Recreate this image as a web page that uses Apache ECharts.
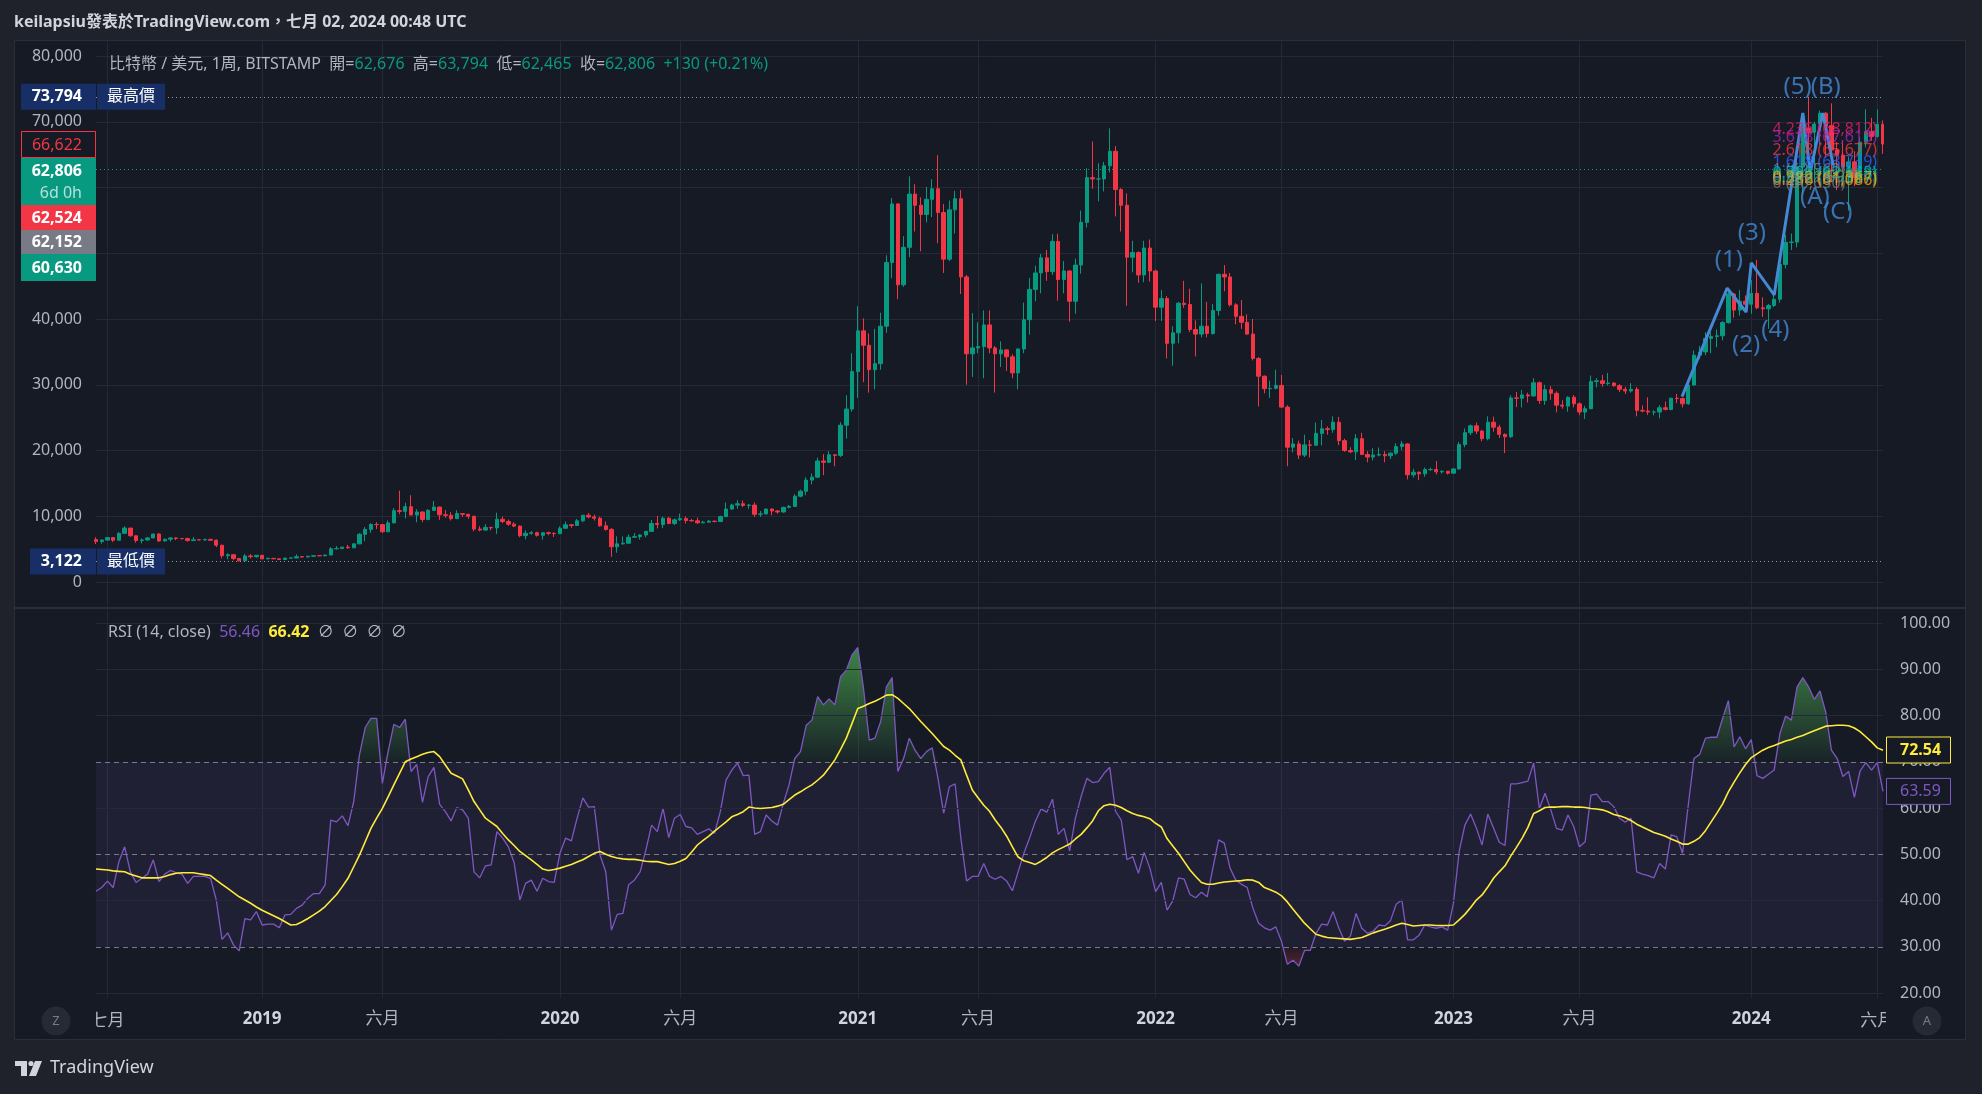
<!DOCTYPE html>
<html lang="zh-Hant">
<head>
<meta charset="UTF-8">
<title>比特幣 / 美元, 1周, BITSTAMP</title>
<script src="https://cdn.jsdelivr.net/npm/echarts@6.0.0/dist/echarts.min.js"></script>
<style>
  html, body { margin: 0; padding: 0; background: #1f222b; }
  #main { width: 1982px; height: 1094px; }
</style>
</head>
<body>
<div id="main"></div>
<script>
// weekly candles [open, high, low, close], first bar is the week of 2018-06-18
var firstWeek = '2018-06-18';

var ohlc2018 = [
  [6450, 6810, 5780, 6150], [6150, 6480, 5830, 6380], [6380, 6770, 6290, 6750], [6750, 6790, 6070, 6350],
  [6350, 7580, 6330, 7400], [7400, 8480, 7390, 8200], [8200, 8250, 6900, 7030], [7030, 7150, 5970, 6310],
  [6310, 6620, 5880, 6400], [6400, 6840, 6280, 6700], [6700, 7340, 6680, 7300], [7300, 7420, 6100, 6250],
  [6250, 6600, 6160, 6500], [6500, 6820, 6150, 6700], [6700, 6790, 6360, 6620], [6620, 6700, 6480, 6600],
  [6600, 6740, 6140, 6300], [6300, 6850, 6280, 6420], [6420, 6500, 6350, 6400], [6400, 6560, 6260, 6480],
  [6480, 6600, 6280, 6350], [6350, 6470, 5300, 5600], [5600, 5650, 3600, 4000], [4000, 4350, 3450, 4150],
  [4150, 4200, 3300, 3580], [3580, 3600, 3122, 3220], [3220, 4250, 3200, 3960], [3960, 4250, 3580, 3850],
  [3850, 4100, 3690, 4060]
];
var ohlc2019 = [
  [4060, 4110, 3480, 3520], [3520, 3720, 3480, 3600], [3600, 3630, 3450, 3530], [3530, 3540, 3380, 3420],
  [3420, 3680, 3370, 3640], [3640, 3700, 3540, 3650], [3650, 4200, 3620, 3850], [3850, 3950, 3700, 3820],
  [3820, 3960, 3700, 3920], [3920, 4040, 3840, 4000], [4000, 4080, 3940, 3990], [3990, 4140, 3930, 4100],
  [4100, 5300, 4080, 5050], [5050, 5470, 4950, 5080], [5080, 5360, 5020, 5300], [5300, 5630, 5070, 5200],
  [5200, 5850, 5150, 5800], [5800, 7450, 5750, 7250], [7250, 8350, 6200, 8000], [8000, 8950, 7500, 8750],
  [8750, 9090, 8050, 8730], [8730, 8800, 7450, 7650], [7650, 9350, 7550, 8990], [8990, 11250, 8950, 10850],
  [10850, 13880, 10300, 10750], [10750, 12050, 9650, 11450], [11450, 13200, 10100, 10200], [10200, 11080, 9080, 10650],
  [10650, 10700, 9110, 9500], [9500, 11080, 9400, 10900], [10900, 12320, 10800, 11400], [11400, 11450, 9450, 10230],
  [10230, 10950, 9750, 10150], [10150, 10620, 9340, 9630], [9630, 10900, 9600, 10400], [10400, 10450, 9900, 10300],
  [10300, 10350, 9600, 10000], [10000, 10100, 7700, 8050], [8050, 8500, 7700, 7900], [7900, 8800, 7790, 8300],
  [8300, 8400, 7850, 8230], [8230, 10550, 7300, 9550], [9550, 9950, 8950, 9200], [9200, 9500, 8550, 8800],
  [8800, 9100, 8350, 8500], [8500, 8600, 6800, 7050], [7050, 7850, 6500, 7400], [7400, 7750, 7200, 7500],
  [7500, 7650, 6900, 7100], [7100, 7550, 6450, 7500], [7500, 7650, 7100, 7400], [7400, 7550, 6850, 7350]
];
var ohlc2020 = [
  [7350, 8460, 7350, 8180], [8180, 9200, 8050, 8700], [8700, 8750, 8250, 8600], [8600, 9600, 8550, 9300],
  [9300, 10200, 9100, 10150], [10150, 10500, 9700, 9900], [9900, 10250, 9350, 9700], [9700, 9950, 8400, 8550],
  [8550, 9200, 7800, 8000], [8000, 8200, 3850, 5350], [5350, 6950, 4450, 5800], [5800, 6950, 5700, 5900],
  [5900, 7200, 5850, 6800], [6800, 7450, 6750, 6900], [6900, 7300, 6450, 7150], [7150, 7750, 6800, 7700],
  [7700, 9450, 7650, 8900], [8900, 10050, 8150, 8750], [8750, 9950, 8200, 9700], [9700, 9900, 8800, 8900],
  [8900, 9650, 8650, 9450], [9450, 10400, 9300, 9650], [9650, 9990, 8900, 9350], [9350, 9600, 9200, 9300],
  [9300, 9800, 8850, 9000], [9000, 9300, 8950, 9100], [9100, 9450, 9050, 9250], [9250, 9350, 9050, 9200],
  [9200, 10100, 9150, 9950], [9950, 12100, 9900, 11100], [11100, 11900, 11000, 11700], [11700, 12450, 11150, 11900],
  [11900, 12400, 11400, 11650], [11650, 11850, 11150, 11700], [11700, 12100, 9900, 10300], [10300, 10800, 9900, 10350],
  [10350, 11150, 10300, 11100], [11100, 11180, 10150, 10800], [10800, 10950, 10400, 10650], [10650, 11450, 10530, 11350],
  [11350, 11700, 11200, 11500], [11500, 13350, 11400, 13050], [13050, 14050, 12900, 13800], [13800, 15950, 13200, 15500],
  [15500, 16500, 14850, 15950], [15950, 18900, 15800, 18400], [18400, 19450, 16250, 18200], [18200, 19900, 18100, 19350],
  [19350, 19400, 17600, 19250], [19250, 24300, 19000, 23850], [23850, 28400, 21800, 26300], [26300, 34800, 25900, 32000]
];
var ohlc2021 = [
  [32000, 41950, 28000, 38200], [38200, 40100, 30400, 36000], [36000, 37800, 28800, 32300], [32300, 38500, 29300, 33200],
  [33200, 40950, 32300, 38900], [38900, 49700, 37900, 48600], [48600, 58400, 46200, 57500], [57500, 57600, 43000, 45200],
  [45200, 52600, 44900, 50900], [50900, 61700, 49400, 59000], [59000, 60500, 53300, 57300], [57300, 58500, 50300, 55900],
  [55900, 60100, 54700, 58200], [58200, 61250, 55500, 59800], [59800, 64900, 51500, 56200], [56200, 57500, 47000, 49100],
  [49100, 58000, 48800, 56600], [56600, 59500, 53000, 58300], [58300, 59600, 43800, 46400], [46400, 46700, 30000, 34700],
  [34700, 40900, 31200, 35600], [35600, 39500, 34800, 35800], [35800, 41300, 31000, 39100], [39100, 41300, 34800, 35600],
  [35600, 35900, 28800, 34700], [34700, 36600, 32700, 35300], [35300, 35400, 32100, 34250], [34250, 34650, 31000, 31800],
  [31800, 35500, 29300, 35450], [35450, 42500, 34800, 39900], [39900, 46250, 37600, 44500], [44500, 48100, 42700, 47000],
  [47000, 49900, 43900, 49300], [49300, 50500, 45800, 47200], [47200, 52900, 46700, 51800], [51800, 52950, 42800, 46000],
  [46000, 48800, 43900, 47300], [47300, 47400, 39600, 42700], [42700, 49200, 40800, 48200], [48200, 56500, 46900, 54700],
  [54700, 62900, 53900, 61500], [61500, 67000, 59800, 61300], [61300, 63700, 57900, 61300], [61300, 63900, 59400, 63300],
  [63300, 69000, 62300, 65500], [65500, 66300, 55600, 59700], [59700, 59900, 53300, 57300], [57300, 59100, 42000, 49400],
  [49400, 51900, 47100, 50100], [50100, 50300, 45500, 46700], [46700, 51900, 45600, 50800], [50800, 52100, 45700, 47300]
];
var ohlc2022 = [
  [47300, 47500, 39700, 41800], [41800, 44400, 39700, 43100], [43100, 43500, 34000, 36300], [36300, 38900, 32900, 37900],
  [37900, 42600, 36300, 42400], [42400, 45800, 41700, 42200], [42200, 44600, 38000, 38400], [38400, 39800, 34300, 37700],
  [37700, 45400, 37200, 38900], [38900, 42600, 37200, 37800], [37800, 42300, 37600, 41300], [41300, 46900, 40500, 46800],
  [46800, 48200, 44200, 46400], [46400, 47000, 41900, 42150], [42150, 42400, 39200, 40400], [40400, 42900, 38500, 39500],
  [39500, 40700, 37600, 37700], [37700, 40000, 33700, 34000], [34000, 34200, 26700, 31300], [31300, 31400, 28700, 29400],
  [29400, 30600, 28000, 29450], [29450, 32300, 29300, 29900], [29900, 31500, 26500, 26600], [26600, 26900, 17600, 20500],
  [20500, 21900, 19700, 21000], [21000, 21500, 18700, 19300], [19300, 22400, 19000, 20850], [20850, 21600, 18950, 20800],
  [20800, 24250, 20700, 22600], [22600, 24650, 20750, 23300], [23300, 23650, 22400, 23200], [23200, 25200, 22700, 24300],
  [24300, 25100, 20800, 21500], [21500, 21800, 19800, 20000], [20000, 20500, 19600, 19800], [19800, 22500, 18550, 21800],
  [21800, 22700, 19350, 19400], [19400, 19900, 18200, 19000], [19000, 20350, 18500, 19300], [19300, 20450, 19100, 19400],
  [19400, 19900, 18200, 19200], [19200, 19700, 18700, 19600], [19600, 21100, 19300, 20600], [20600, 21450, 20050, 21000],
  [21000, 21100, 15600, 16300], [16300, 17200, 15900, 16700], [16700, 16800, 15500, 16450], [16450, 17400, 16000, 17100],
  [17100, 17400, 16900, 17100], [17100, 18400, 16350, 16750], [16750, 16950, 16500, 16850], [16850, 16900, 16350, 16550]
];
var ohlc2023 = [
  [16550, 17300, 16500, 17200], [17200, 21300, 17100, 20900], [20900, 23350, 20500, 22700], [22700, 23950, 22350, 23750],
  [23750, 24250, 22500, 22950], [22950, 23150, 21400, 21800], [21800, 25200, 21550, 24300], [24300, 25150, 22850, 23550],
  [23550, 23900, 21900, 22450], [22450, 22600, 19600, 22100], [22100, 28400, 21900, 28000], [28000, 28900, 26600, 27950],
  [27950, 29200, 26550, 28450], [28450, 28800, 27300, 28300], [28300, 31000, 28200, 30300], [30300, 30500, 27100, 27600],
  [27600, 30000, 26950, 29250], [29250, 29800, 27700, 28700], [28700, 29000, 25800, 26900], [26900, 27650, 26350, 26750],
  [26750, 28250, 25900, 28100], [28100, 28450, 26550, 27100], [27100, 27350, 25350, 25850], [25850, 26800, 24800, 26350],
  [26350, 31400, 26300, 30500], [30500, 31000, 29600, 30600], [30600, 31500, 29700, 30200], [30200, 31800, 29900, 30250],
  [30250, 30400, 29700, 29850], [29850, 30100, 28900, 29300], [29300, 29700, 28600, 29050], [29050, 30250, 28800, 29300],
  [29300, 29650, 25200, 26100], [26100, 26850, 25800, 26000], [26000, 28100, 25400, 25850], [25850, 26100, 25350, 25850],
  [25850, 26900, 24900, 26500], [26500, 27450, 26100, 26250], [26250, 28000, 26100, 27950], [27950, 28600, 27200, 27900],
  [27900, 28000, 26550, 27100], [27100, 30350, 26950, 29950], [29950, 35200, 29900, 34500], [34500, 35900, 33900, 35000],
  [35000, 38000, 34500, 37050], [37050, 37950, 34800, 37350], [37350, 38400, 35700, 37450], [37450, 39700, 36750, 39450],
  [39450, 44700, 39300, 43800], [43800, 44000, 40200, 41350], [41350, 44400, 40500, 42700], [42700, 43600, 41300, 42250]
];
var ohlc2024 = [
  [42250, 45900, 40800, 43900], [43900, 49000, 41500, 41700], [41700, 43300, 40300, 41550], [41550, 42300, 38500, 42050],
  [42050, 43900, 41800, 43000], [43000, 48600, 42500, 48300], [48300, 52800, 47700, 51650], [51650, 53000, 50500, 51700],
  [51700, 64000, 50900, 63100], [63100, 70100, 59000, 68950], [68950, 73794, 64600, 68400], [68400, 70000, 60700, 69650],
  [69650, 71700, 66500, 71300], [71300, 71500, 64500, 69400], [69400, 72800, 60800, 65700], [65700, 66900, 59600, 64900],
  [64900, 67200, 62400, 63100], [63100, 64700, 56500, 63900], [63900, 65500, 60200, 61500], [61500, 67700, 60800, 66900],
  [66900, 71900, 66100, 68500], [68500, 70600, 67100, 67750], [67750, 71900, 67600, 69600], [69600, 70200, 65100, 66622]
];

// RSI(14) and its moving average, one value per weekly bar
var rsiValues = [
  42, 42.8, 44.2, 42.8, 48.4, 51.6, 46.2, 43.9, 44.8, 45.7,
  48.8, 44.1, 45.7, 46.5, 46, 45.7, 43.7, 45.2, 45.2, 45.2,
  44.8, 40.1, 31.6, 33, 30.4, 29.1, 36.1, 35.8, 37.6, 34.7,
  34.9, 34.9, 34.1, 36.9, 37, 38.3, 39, 40.5, 41.5, 41.5,
  43.4, 57.4, 57, 58.3, 56.2, 61.4, 71.5, 77.4, 79.4, 79.4,
  65.3, 72.2, 78.1, 77.4, 79.2, 67.9, 69.4, 61.2, 66.8, 68.8,
  60.8, 59.2, 57.2, 60.1, 59.6, 57.8, 46.2, 44.9, 47.5, 47.7,
  54.9, 53.5, 51.6, 48.2, 40.1, 43.7, 44.4, 42, 44.8, 44.1,
  43.9, 50.2, 53.5, 52.9, 57.8, 62.2, 60.2, 60.3, 49.8, 46.2,
  33.6, 37, 37.2, 43.4, 44.4, 46.2, 50.9, 56.3, 54.9, 59.9,
  53.6, 57.8, 58.6, 56, 55.7, 54.3, 54.9, 55.5, 54.5, 59.2,
  66, 68.2, 69.7, 67, 67.1, 54.3, 54.9, 58.5, 57.2, 56.3,
  61, 65, 70.7, 72.2, 77.9, 79, 84.1, 82.3, 83.6, 82.3,
  88.4, 89.8, 93.1, 94.7, 85.9, 74.7, 75.1, 78.7, 86.2, 88.2,
  67.9, 70.7, 75.1, 72.5, 70.7, 72.2, 73, 66.4, 58.9, 64.6,
  65.2, 53.5, 44.2, 45.2, 45.2, 48, 45.2, 44.6, 45.2, 44.2,
  42.1, 46.2, 50.2, 53.5, 57.1, 59.8, 59.1, 61.9, 54.3, 55.6,
  50.7, 57.8, 62.5, 66.4, 65.5, 65.7, 67.5, 68.8, 59.3, 57.4,
  48.8, 49.5, 45.9, 50.4, 47, 41.9, 43.9, 37.9, 39.9, 44.9,
  44.6, 41.3, 40.6, 41.8, 40.8, 47, 53.1, 52.4, 47, 44.4,
  43.5, 42.8, 38.3, 35.1, 34.1, 33.6, 34.3, 31.1, 26.2, 27.1,
  25.8, 29.2, 29.2, 32.9, 34.9, 34.7, 37.6, 34, 31.2, 32.3,
  37.2, 34, 32.9, 33.4, 34.7, 34.5, 35.6, 39.2, 40.1, 31.5,
  31.5, 32.5, 34.7, 34.3, 34, 34.3, 33.6, 39.4, 50.6, 56.3,
  58.7, 55.7, 52, 58.7, 55.7, 52.6, 51.9, 65.2, 65.2, 65.5,
  65.8, 69.7, 59.9, 63.2, 59.6, 55.6, 55.2, 58.5, 56, 51.6,
  52.7, 62.8, 63, 61.4, 61.4, 60.3, 57.8, 56.9, 57.8, 46.2,
  45.7, 45.4, 44.9, 48, 46.8, 54.2, 53.8, 50.2, 60.6, 70.7,
  71.6, 75.1, 75.3, 75.3, 79.4, 83.2, 73.2, 75.4, 72.8, 74.8,
  67, 66.4, 67.3, 68.2, 76.1, 79.9, 79, 86.2, 88.2, 86.2,
  83.5, 85.3, 80.7, 72.5, 70.7, 66.8, 67.9, 62.3, 68, 69.8,
  68.2, 69.8, 63.6
];
var rsiMaValues = [
  46.8, 46.7, 46.6, 46.4, 46.3, 46.2, 45.7, 45.3, 44.9, 44.9,
  44.9, 44.9, 45.2, 45.6, 45.9, 46, 46, 46, 45.8, 45.6,
  45.4, 44.4, 43.5, 42.6, 41.7, 40.8, 40.1, 39.4, 38.6, 37.9,
  37.3, 36.7, 36.1, 35.4, 34.7, 34.8, 35.4, 36.1, 36.9, 37.7,
  38.7, 40, 41.3, 43, 44.8, 47.3, 49.8, 52.7, 55.6, 57.8,
  59.9, 62.4, 65, 67.5, 70, 70.6, 71.1, 71.6, 72, 72.2,
  71.1, 69.3, 67.5, 66.9, 66.3, 63.9, 61.4, 59.6, 57.8, 56.9,
  56, 54.5, 53.1, 51.9, 50.6, 49.7, 48.8, 47.8, 46.8, 46.5,
  46.7, 47, 47.4, 47.8, 48.3, 48.8, 49.5, 50.2, 50.6, 50,
  49.5, 49.2, 49, 48.9, 48.9, 48.7, 48.5, 48.4, 48.4, 48.1,
  47.8, 48, 48.5, 49.1, 50.5, 52, 53, 53.9, 55, 56,
  57, 58.1, 58.6, 59.2, 60.2, 60, 59.9, 60, 60.1, 60.4,
  60.8, 61.8, 62.8, 63.5, 64.3, 65, 66, 67.1, 68.7, 70.4,
  72.7, 75.1, 78.3, 81.5, 82, 82.6, 83.1, 83.7, 84.4, 84.5,
  83.7, 82.6, 81.5, 80.1, 78.7, 77.4, 76.1, 74.7, 73.3, 72.5,
  71.4, 70.4, 67.1, 63.9, 62.2, 60.6, 59.3, 57.4, 55.8, 53.9,
  51.6, 49.4, 48.6, 48.2, 47.8, 48.5, 49.3, 50.3, 51, 51.6,
  52.2, 53.3, 54.3, 55.7, 57.2, 59.4, 60.5, 60.8, 60.6, 60.1,
  59.4, 58.8, 58.4, 58.1, 57.7, 56.7, 55.9, 53.4, 51.8, 50.2,
  48.4, 46.6, 45.2, 43.9, 43.5, 43.5, 43.8, 44, 44.1, 44.2,
  44.3, 44.5, 44.4, 43.9, 42.8, 42.3, 41.8, 41, 39.7, 38.1,
  36.6, 35.1, 33.9, 32.7, 32.3, 32, 31.9, 31.8, 31.7, 31.6,
  31.8, 32, 32.5, 33, 33.4, 33.8, 34.2, 34.7, 35.1, 34.8,
  34.5, 34.6, 34.7, 34.7, 34.6, 34.6, 34.6, 34.7, 35.8, 37,
  38.5, 40.1, 41.2, 42.9, 44.8, 46.2, 47.5, 49.6, 51.5, 53.5,
  55.8, 58.8, 59.4, 60.1, 60.2, 60.2, 60.3, 60.3, 60.2, 60.2,
  60.1, 59.9, 59.8, 59.6, 59.2, 58.6, 58.3, 57.9, 57.3, 56.5,
  55.9, 55.3, 54.7, 54.3, 53.9, 53.3, 52.8, 52.2, 52.2, 52.8,
  53.6, 55.1, 57, 58.9, 60.9, 63.5, 65.6, 67.6, 69.4, 70.9,
  71.7, 72.5, 73.1, 73.5, 74, 74.5, 74.8, 75.3, 75.7, 76.2,
  76.7, 77.2, 77.7, 77.8, 77.9, 77.9, 77.8, 77.3, 76.5, 75.4,
  74.3, 73, 72.5
];

// time axis labels: [week start, label]
var timeTicks = [
  ['2018-07-02', '七月'], ['2019-01-07', '2019'], ['2019-06-03', '六月'], ['2020-01-06', '2020'],
  ['2020-06-01', '六月'], ['2021-01-04', '2021'], ['2021-05-31', '六月'], ['2022-01-03', '2022'],
  ['2022-06-06', '六月'], ['2023-01-02', '2023'], ['2023-06-05', '六月'], ['2024-01-01', '2024'],
  ['2024-06-03', '六月']
];

// header / scale values
var allTimeHigh = 73794;
var allTimeLow = 3122;
var lastPrice = 62806;
var currentBar = { open: 62676, high: 63794, low: 62465, close: 62806, change: 130, changePct: 0.21 };
var leftTags = [66622, 62806, 62524, 62152, 60630];
var rsiLegend = [56.46, 66.42];
var rsiLast = 63.59;
var rsiMaLast = 72.54;

// Elliott wave drawing: [bar index, price]
var wavePath = [
  [276.9, 28200], [284.8, 44700], [288.1, 41060], [289.0, 48520], [293.0, 43650],
  [298.0, 71330], [299.3, 62360], [301.5, 71330], [303.3, 63420]
];
var waveLabels = [
  ['(1)', 285.1, 48970], ['(2)', 288.1, 36050], ['(3)', 289.1, 53080], ['(4)', 293.2, 38330],
  ['(5)', 297.1, 75290], ['(A)', 300.1, 58560], ['(B)', 302.0, 75290], ['(C)', 304.1, 56270]
];

// fib extension labels
var fibRatios = ['4.236', '3.618', '2.618', '1.618', '1', '0.786', '0.618', '0.5', '0.382', '0.236', '0'];
var fibPrices = [68812, 67613, 65677, 63739, 62560, 62148, 61823, 61595, 61367, 61086, 60630];
var fibAnchor = 292.6;

// ---- styles ----
var FONT = '"Noto Sans", "Noto Sans CJK TC", sans-serif';
var UP = '#089981', DOWN = '#F23645';
var PANE = '#161A25', OUTER = '#1F222B', GRID = '#252935', BORDER = '#2A2E39';
var TEXT = '#B2B5BE', WAVE = '#4489D4';
var RSI_COLOR = '#7E57C2', MA_COLOR = '#FFEB3B';
var fibColors = ['#E91E63', '#9C27B0', '#F23645', '#2962FF', '#787B86', '#00BCD4', '#089981', '#4CAF50', '#81C784', '#FF9800', '#787B86'];

var PLOT_L = 96, PLOT_W = 1787;
var PRICE_TOP = 56, PRICE_H = 526;
var RSI_TOP = 623, RSI_H = 370;

// ---- build ----
var ohlc = [].concat(ohlc2018, ohlc2019, ohlc2020, ohlc2021, ohlc2022, ohlc2023, ohlc2024);
var candles = ohlc.map(function (r) { return [r[0], r[3], r[2], r[1]]; });

var dates = [];
var t0 = Date.parse(firstWeek + 'T00:00:00Z');
for (var i = 0; i < ohlc.length; i++) {
  dates.push(new Date(t0 + i * 7 * 86400000).toISOString().slice(0, 10));
}

var tickMap = {};
timeTicks.forEach(function (t) { tickMap[t[0]] = t[1]; });
function isTick(index, value) { return tickMap[value] !== undefined; }
function tickLabel(value) {
  var t = tickMap[value];
  return /^\d+$/.test(t) ? '{y|' + t + '}' : '{m|' + t + '}';
}
function fmt(v) { return v.toLocaleString('en-US'); }

function timeAxis(gridIndex, withLabels, withLines) {
  return {
    type: 'category', gridIndex: gridIndex, data: dates, boundaryGap: false,
    axisLine: { show: false }, axisTick: { show: false },
    axisLabel: {
      show: withLabels, interval: isTick, formatter: tickLabel, margin: 18,
      showMinLabel: false, showMaxLabel: false,
      rich: {
        y: { fontSize: 17, fontWeight: 'bold', color: '#D1D4DC', fontFamily: FONT },
        m: { fontSize: 17, color: TEXT, fontFamily: FONT }
      }
    },
    splitLine: { show: withLines, interval: isTick, lineStyle: { color: GRID, width: 1 } }
  };
}

var y70 = RSI_TOP + RSI_H * 30 / 80;
var y30 = RSI_TOP + RSI_H * 70 / 80;
var DOTS = [1, 3];

var option = {
  backgroundColor: PANE,
  animation: false,
  textStyle: { fontFamily: FONT },
  grid: [
    { left: PLOT_L, top: PRICE_TOP, width: PLOT_W, height: PRICE_H, outerBoundsMode: 'none' },
    { left: PLOT_L, top: RSI_TOP, width: PLOT_W, height: RSI_H, outerBoundsMode: 'none' },
    { left: PLOT_L, top: 41, width: PLOT_W, height: 566, outerBoundsMode: 'none' },
    { left: PLOT_L, top: 609, width: PLOT_W, height: 389, outerBoundsMode: 'none' }
  ],
  xAxis: [
    timeAxis(0, false, false),
    timeAxis(1, true, false),
    timeAxis(2, false, true),
    timeAxis(3, false, true),
    { type: 'value', gridIndex: 0, min: 0, max: dates.length - 1, show: false }
  ],
  yAxis: [
    {
      type: 'value', gridIndex: 0, position: 'left', min: 0, max: 80000, interval: 10000,
      axisLine: { show: false }, axisTick: { show: false },
      axisLabel: { color: TEXT, fontSize: 16, margin: 14, formatter: fmt },
      splitLine: { lineStyle: { color: GRID } }
    },
    {
      type: 'value', gridIndex: 1, position: 'right', min: 20, max: 100, interval: 10,
      axisLine: { show: false }, axisTick: { show: false },
      axisLabel: { color: TEXT, fontSize: 16, margin: 17, formatter: function (v) { return v.toFixed(2); } },
      splitLine: { show: false }
    },
    { type: 'value', gridIndex: 2, show: false },
    { type: 'value', gridIndex: 3, show: false }
  ],
  series: [
    {
      name: '比特幣 / 美元', type: 'candlestick', xAxisIndex: 0, yAxisIndex: 0, data: candles,
      barWidth: '68%', z: 3,
      itemStyle: { color: UP, color0: DOWN, borderColor: UP, borderColor0: DOWN, borderWidth: 1 },
      markLine: {
        silent: true, symbol: ['none', 'none'], label: { show: false },
        data: [
          { yAxis: allTimeHigh, lineStyle: { color: '#9598A1', type: DOTS, width: 1 } },
          { yAxis: allTimeLow, lineStyle: { color: '#9598A1', type: DOTS, width: 1 } },
          { yAxis: lastPrice, lineStyle: { color: UP, type: DOTS, width: 1 } }
        ]
      }
    },
    {
      name: 'wave', type: 'line', xAxisIndex: 4, yAxisIndex: 0, data: wavePath,
      symbol: 'none', z: 5, lineStyle: { color: WAVE, width: 3 }
    },
    {
      name: 'wave labels', type: 'scatter', xAxisIndex: 4, yAxisIndex: 0, z: 6,
      symbolSize: 1, itemStyle: { color: 'transparent' },
      data: waveLabels.map(function (w) { return { name: w[0], value: [w[1], w[2]] }; }),
      label: { show: true, position: 'inside', formatter: '{b}', color: WAVE, fontSize: 24, fontFamily: FONT }
    },
    {
      name: 'fib', type: 'scatter', xAxisIndex: 4, yAxisIndex: 0, z: 6,
      symbolSize: 1, itemStyle: { color: 'transparent' },
      data: fibRatios.map(function (r, k) {
        return {
          name: r + ' (' + fmt(fibPrices[k]) + ')', value: [fibAnchor, fibPrices[k]],
          label: { color: fibColors[k] }
        };
      }),
      label: { show: true, position: 'right', distance: 0, formatter: '{b}', fontSize: 16, fontFamily: FONT }
    },
    // RSI grid lines + overbought fill base
    {
      name: 'ob base', type: 'line', xAxisIndex: 1, yAxisIndex: 1, stack: 'ob', silent: true,
      data: dates.map(function () { return 70; }), symbol: 'none', lineStyle: { opacity: 0 }, z: 1,
      markLine: {
        silent: true, symbol: ['none', 'none'], label: { show: false },
        lineStyle: { color: GRID, type: 'solid', width: 1 },
        data: [{ yAxis: 20 }, { yAxis: 40 }, { yAxis: 60 }, { yAxis: 80 }, { yAxis: 90 }, { yAxis: 100 }]
      }
    },
    {
      name: 'ob fill', type: 'line', xAxisIndex: 1, yAxisIndex: 1, stack: 'ob', silent: true,
      data: rsiValues.map(function (v) { return Math.max(v - 70, 0); }),
      symbol: 'none', lineStyle: { opacity: 0 }, z: 2,
      areaStyle: {
        opacity: 1,
        color: new echarts.graphic.LinearGradient(0, RSI_TOP, 0, y70, [
          { offset: 0, color: 'rgba(76,175,80,0.85)' },
          { offset: 1, color: 'rgba(76,175,80,0.06)' }
        ], true)
      }
    },
    {
      name: 'os base', type: 'line', xAxisIndex: 1, yAxisIndex: 1, stack: 'os', silent: true,
      data: rsiValues.map(function (v) { return Math.min(v, 30); }),
      symbol: 'none', lineStyle: { opacity: 0 }, z: 1
    },
    {
      name: 'os fill', type: 'line', xAxisIndex: 1, yAxisIndex: 1, stack: 'os', silent: true,
      data: rsiValues.map(function (v) { return 30 - Math.min(v, 30); }),
      symbol: 'none', lineStyle: { opacity: 0 }, z: 2,
      areaStyle: {
        opacity: 1,
        color: new echarts.graphic.LinearGradient(0, y30, 0, RSI_TOP + RSI_H, [
          { offset: 0, color: 'rgba(242,54,69,0.05)' },
          { offset: 1, color: 'rgba(242,54,69,0.6)' }
        ], true)
      }
    },
    {
      name: 'RSI', type: 'line', xAxisIndex: 1, yAxisIndex: 1, data: rsiValues,
      symbol: 'none', z: 4, lineStyle: { color: RSI_COLOR, width: 1.3 },
      markArea: {
        silent: true, itemStyle: { color: 'rgba(126,87,194,0.1)' },
        data: [[{ yAxis: 30 }, { yAxis: 70 }]]
      },
      markLine: {
        silent: true, symbol: ['none', 'none'], label: { show: false },
        lineStyle: { color: '#787B86', type: [5, 4], width: 1 },
        data: [{ yAxis: 70 }, { yAxis: 50 }, { yAxis: 30 }]
      }
    },
    {
      name: 'RSI MA', type: 'line', xAxisIndex: 1, yAxisIndex: 1, data: rsiMaValues,
      symbol: 'none', z: 5, lineStyle: { color: MA_COLOR, width: 1.6 }
    }
  ]
};

var chart = echarts.init(document.getElementById('main'));
chart.setOption(option);

// ---- overlay: frame, header, scale tags ----
function rect(x, y, w, h, fill, stroke, z) {
  return { type: 'rect', shape: { x: x, y: y, width: w, height: h },
    style: { fill: fill, stroke: stroke || null, lineWidth: stroke ? 1 : 0 }, z: z || 100, silent: true };
}
function text(x, y, str, color, size, weight, align, z) {
  return { type: 'text', x: x, y: y, z: z || 110, silent: true,
    style: { text: str, fill: color, font: (weight || 'normal') + ' ' + size + 'px ' + FONT,
      align: align || 'left', verticalAlign: 'middle' } };
}

var g = [];
// outer strips and widget border
g.push(rect(0, 0, 1982, 40, OUTER));
g.push(rect(0, 1040, 1982, 54, OUTER));
g.push(rect(0, 0, 14, 1094, OUTER));
g.push(rect(1966, 0, 16, 1094, OUTER));
g.push(rect(14.5, 40.5, 1951, 999, 'transparent', BORDER));
g.push({ type: 'line', shape: { x1: 15, y1: 608, x2: 1965, y2: 608 }, style: { stroke: BORDER, lineWidth: 2 }, z: 100, silent: true });

// time labels cut by the plot edges (the axis itself drops them)
var edgeTicks = [timeTicks[0], timeTicks[timeTicks.length - 1]];
edgeTicks.forEach(function (t) {
  var x = chart.convertToPixel({ xAxisIndex: 1 }, t[0]);
  g.push(text(x, 1021, t[1], TEXT, 17, 'normal', 'center', 80));
});

// clip covers next to the plot
g.push(rect(1884, 41, 81, 566, PANE, null, 90));
g.push(rect(15, 1004, 81, 35, PANE, null, 90));
g.push(rect(1886, 1004, 79, 35, PANE, null, 90));

// header
g.push(text(14, 22, 'keilapsiu發表於TradingView.com，七月 02, 2024 00:48 UTC', '#D1D4DC', 16, 'bold'));
var rich = {
  g: { fill: TEXT, color: TEXT, fontSize: 16, fontFamily: FONT },
  v: { fill: UP, color: UP, fontSize: 16, fontFamily: FONT },
  p: { fill: RSI_COLOR, color: RSI_COLOR, fontSize: 16, fontFamily: FONT },
  y: { fill: MA_COLOR, color: MA_COLOR, fontSize: 16, fontWeight: 'bold', fontFamily: FONT }
};
g.push({ type: 'text', x: 109, y: 64, z: 110, silent: true, style: {
  text: '{g|比特幣 / 美元, 1周, BITSTAMP  開=}{v|' + fmt(currentBar.open) + '}{g|  高=}{v|' + fmt(currentBar.high) +
    '}{g|  低=}{v|' + fmt(currentBar.low) + '}{g|  收=}{v|' + fmt(currentBar.close) +
    '}{v|  +' + currentBar.change + ' (+' + currentBar.changePct.toFixed(2) + '%)}',
  rich: rich, verticalAlign: 'middle' } });
g.push({ type: 'text', x: 108, y: 632, z: 110, silent: true, style: {
  text: '{g|RSI (14, close)  }{p|' + rsiLegend[0].toFixed(2) + '}{g|  }{y|' + rsiLegend[1].toFixed(2) + '}{g|  ∅  ∅  ∅  ∅}',
  rich: rich, verticalAlign: 'middle' } });

// all-time high / low tags
var NAVY = '#172F66';
var yHigh = chart.convertToPixel({ yAxisIndex: 0 }, allTimeHigh);
var yLow = chart.convertToPixel({ yAxisIndex: 0 }, allTimeLow);
g.push(rect(21, yHigh - 13, 75, 26, NAVY));
g.push(rect(97, yHigh - 13, 68, 26, NAVY));
g.push(text(82, yHigh, fmt(allTimeHigh), '#FFFFFF', 16, 'bold', 'right'));
g.push(text(131, yHigh, '最高價', '#FFFFFF', 16, 'normal', 'center'));
g.push(rect(30, yLow - 13, 66, 26, NAVY));
g.push(rect(97, yLow - 13, 68, 26, NAVY));
g.push(text(82, yLow, fmt(allTimeLow), '#FFFFFF', 16, 'bold', 'right'));
g.push(text(131, yLow, '最低價', '#FFFFFF', 16, 'normal', 'center'));

// stacked price tags on the left scale
var tagBoxes = [[131, 27], [158, 47], [205, 25], [230, 24], [254, 27]];
var tagFills = [PANE, UP, DOWN, '#787B86', UP];
g.push(rect(21.5, 131.5, 74, 26, PANE, DOWN, 100));
for (var k = 1; k < leftTags.length; k++) {
  g.push(rect(21, tagBoxes[k][0], 75, tagBoxes[k][1], tagFills[k]));
}
g.push(text(82, 145, fmt(leftTags[0]), DOWN, 16, 'normal', 'right'));
g.push(text(82, 171, fmt(leftTags[1]), '#FFFFFF', 16, 'bold', 'right'));
g.push(text(82, 193, '6d 0h', 'rgba(255,255,255,0.7)', 16, 'normal', 'right'));
g.push(text(82, 218, fmt(leftTags[2]), '#FFFFFF', 16, 'bold', 'right'));
g.push(text(82, 242, fmt(leftTags[3]), '#FFFFFF', 16, 'bold', 'right'));
g.push(text(82, 268, fmt(leftTags[4]), '#FFFFFF', 16, 'bold', 'right'));

// RSI value tags on the right scale
var yMa = chart.convertToPixel({ yAxisIndex: 1 }, rsiMaLast);
var yRsi = chart.convertToPixel({ yAxisIndex: 1 }, rsiLast);
g.push(rect(1886.5, yMa - 13, 64, 26, PANE, MA_COLOR, 100));
g.push(text(1900, yMa, rsiMaLast.toFixed(2), MA_COLOR, 16, 'bold'));
g.push(rect(1886.5, yRsi - 13, 64, 26, PANE, RSI_COLOR, 100));
g.push(text(1900, yRsi, rsiLast.toFixed(2), RSI_COLOR, 16, 'normal'));

// Z / A buttons
g.push({ type: 'circle', shape: { cx: 56, cy: 1021, r: 14.5 }, style: { fill: '#262A35' }, z: 100, silent: true });
g.push(text(56, 1021, 'Z', '#787B86', 13, 'normal', 'center'));
g.push({ type: 'circle', shape: { cx: 1927, cy: 1021, r: 14.5 }, style: { fill: '#262A35' }, z: 100, silent: true });
g.push(text(1927, 1021, 'A', '#787B86', 13, 'normal', 'center'));

// TradingView mark
var LOGO = '#D1D4DC';
g.push(rect(15, 1061, 12, 5, LOGO, null, 110));
g.push(rect(21, 1061, 6, 15, LOGO, null, 110));
g.push({ type: 'circle', shape: { cx: 31, cy: 1063.5, r: 2.6 }, style: { fill: LOGO }, z: 110, silent: true });
g.push({ type: 'polygon', shape: { points: [[35, 1061], [42, 1061], [36, 1076], [29, 1076]] }, style: { fill: LOGO }, z: 110, silent: true });
g.push(text(50, 1068, 'TradingView', LOGO, 18, 'normal'));

chart.setOption({ graphic: { elements: g } });
</script>
</body>
</html>
